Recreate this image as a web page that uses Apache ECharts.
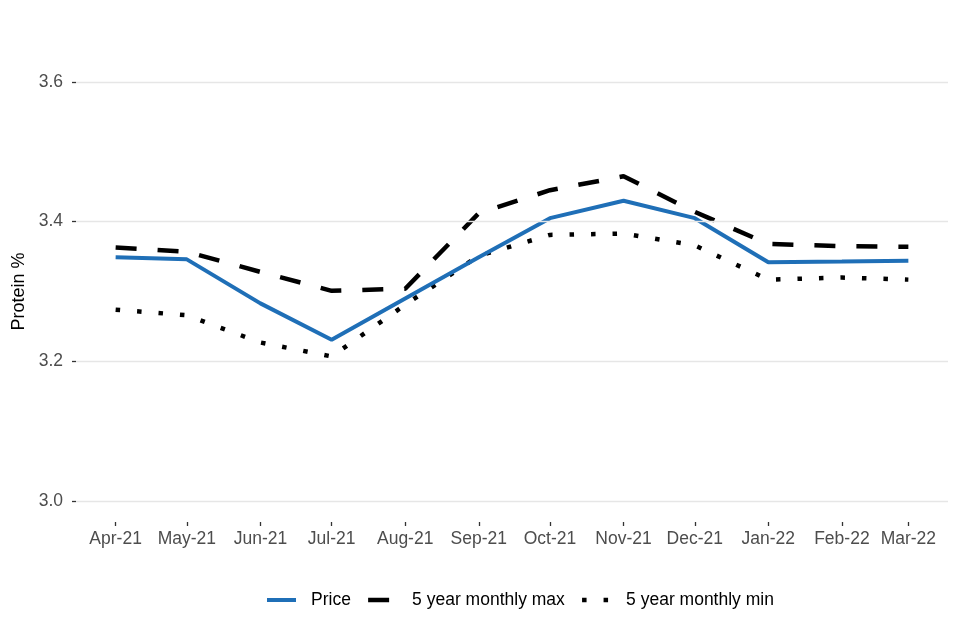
<!DOCTYPE html>
<html>
<head>
<meta charset="utf-8">
<script src="https://cdn.jsdelivr.net/npm/echarts@6/dist/echarts.min.js"></script>
<style>html,body{margin:0;padding:0;background:#fff}#c{width:960px;height:640px}</style>
</head>
<body>
<div id="c"></div>
<script>
const monthDates = ['2021-04-01','2021-05-01','2021-06-01','2021-07-01','2021-08-01','2021-09-01','2021-10-01','2021-11-01','2021-12-01','2022-01-01','2022-02-01','2022-03-01'];
const monthLabels = ['Apr-21','May-21','Jun-21','Jul-21','Aug-21','Sep-21','Oct-21','Nov-21','Dec-21','Jan-22','Feb-22','Mar-22'];
const price = [3.349, 3.346, 3.283, 3.231, 3.290, 3.349, 3.405, 3.430, 3.405, 3.342, 3.343, 3.344];
const max5 = [3.363, 3.357, 3.328, 3.301, 3.304, 3.412, 3.445, 3.465, 3.414, 3.368, 3.365, 3.364];
const min5 = [3.274, 3.266, 3.227, 3.207, 3.281, 3.351, 3.381, 3.383, 3.366, 3.317, 3.320, 3.317];
const yTicks = [3.0, 3.2, 3.4, 3.6];
const seriesNames = ['Price', '5 year monthly max', '5 year monthly min'];

const t0 = Date.parse(monthDates[0]);
const xs = monthDates.map(d => (Date.parse(d) - t0) / 86400000);
const span = xs[xs.length - 1];
const pairs = arr => arr.map((v, i) => [xs[i], v]);
const labelFor = v => {
  for (let i = 0; i < xs.length; i++) if (Math.abs(xs[i] - v) < 0.5) return monthLabels[i];
  return '';
};
const FONT = 'Liberation Sans, Arial, sans-serif';
const BLUE = '#1f6fb7';

const chart = echarts.init(document.getElementById('c'), null, {renderer: 'canvas'});
chart.setOption({
  animation: false,
  backgroundColor: '#ffffff',
  grid: {left: 76, right: 12, top: 61, bottom: 118},
  xAxis: {
    type: 'value',
    min: -0.05 * span,
    max: span * 1.05,
    splitLine: {show: false},
    axisLine: {show: false, onZero: false},
    axisTick: {show: true, customValues: xs, length: 4, lineStyle: {color: '#333333', width: 1.3}},
    axisLabel: {customValues: xs, formatter: labelFor, color: '#4d4d4d', fontSize: 17.5, fontFamily: FONT, margin: 8}
  },
  yAxis: {
    type: 'value',
    min: 2.97,
    max: 3.63,
    name: 'Protein %',
    nameLocation: 'middle',
    nameGap: 45,
    nameTextStyle: {color: '#000000', fontSize: 18, fontFamily: FONT},
    splitLine: {show: false},
    axisLine: {show: false, onZero: false},
    axisTick: {show: true, customValues: yTicks, length: 4, lineStyle: {color: '#333333', width: 1.3}},
    axisLabel: {customValues: yTicks, formatter: v => v.toFixed(1), color: '#4d4d4d', fontSize: 17.5, fontFamily: FONT, margin: 13}
  },
  legend: {
    data: [
      {name: seriesNames[0], lineStyle: {width: 4}},
      {name: seriesNames[1], lineStyle: {width: 4.5}},
      {name: seriesNames[2], lineStyle: {width: 4.5}}
    ],
    bottom: 26,
    left: 260,
    itemWidth: 29,
    itemHeight: 14,
    itemGap: 15,
    itemStyle: {opacity: 0},
    textStyle: {color: '#000000', fontSize: 17.5, fontFamily: FONT, padding: [0, 0, 0, 10]}
  },
  series: [
    {
      name: 'grid', type: 'line', data: [], z: 0, silent: true,
      markLine: {
        silent: true, symbol: 'none', label: {show: false}, animation: false,
        lineStyle: {color: '#e6e6e6', width: 1.4, type: 'solid'},
        data: yTicks.map(v => ({yAxis: v}))
      }
    },
    {
      name: seriesNames[0], type: 'line', data: pairs(price), showSymbol: false, symbol: 'none',
      lineStyle: {color: BLUE, width: 4}, itemStyle: {color: BLUE}, z: 3
    },
    {
      name: seriesNames[1], type: 'line', data: pairs(max5), showSymbol: false, symbol: 'none',
      lineStyle: {color: '#000000', width: 4.5, type: [21, 21], cap: 'butt'}, itemStyle: {color: '#000000'}, z: 2
    },
    {
      name: seriesNames[2], type: 'line', data: pairs(min5), showSymbol: false, symbol: 'none',
      lineStyle: {color: '#000000', width: 4.5, type: [4.5, 17], cap: 'butt'}, itemStyle: {color: '#000000'}, z: 2
    }
  ]
});
</script>
</body>
</html>
